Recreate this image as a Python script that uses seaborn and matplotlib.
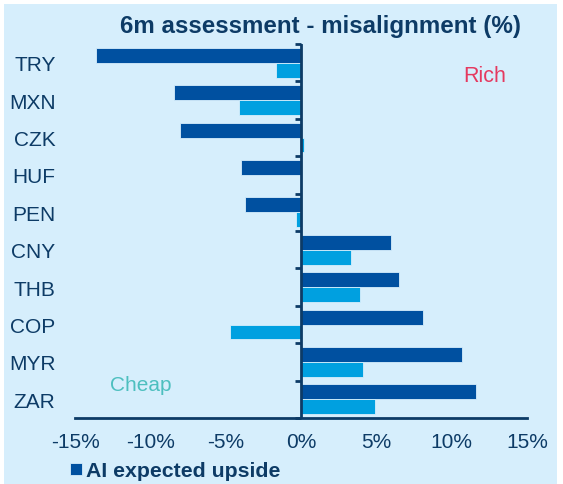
import pandas as pd
import numpy as np
import seaborn as sns
import matplotlib.pyplot as plt
from matplotlib.patches import Rectangle

currencies = ["TRY", "MXN", "CZK", "HUF", "PEN", "CNY", "THB", "COP", "MYR", "ZAR"]
ai_upside = [-13.6, -8.4, -8.0, -4.0, -3.7, 6.0, 6.5, 8.1, 10.7, 11.6]
misalignment = [-1.65, -4.1, 0.2, 0.0, -0.35, 3.3, 3.9, -4.7, 4.1, 4.9]
series_names = ["AI expected upside", "Current misalignment"]
xticks = [-15, -10, -5, 0, 5, 10, 15]

bg = "#D6EEFC"
navy = "#0D3B66"
dark_blue = "#0050A0"
light_blue = "#00A0E0"

df = pd.DataFrame({
    "currency": currencies * 2,
    "value": ai_upside + misalignment,
    "series": [series_names[0]] * len(currencies) + [series_names[1]] * len(currencies),
})

sns.set_theme(style="white")
plt.rcParams["font.family"] = ["Liberation Sans", "DejaVu Sans"]

fig = plt.figure(figsize=(5.63, 4.85), dpi=100, facecolor="white")
fig.patches.append(Rectangle((4 / 563, 0), 553 / 563, 1 - 5 / 485,
                             transform=fig.transFigure, facecolor=bg,
                             edgecolor="none", zorder=-10))
ax = fig.add_axes([75 / 563, 1 - 419 / 485, 452 / 563, 374 / 485])
ax.patch.set_alpha(0)

sns.barplot(data=df, y="currency", x="value", hue="series", orient="h",
            palette=[dark_blue, light_blue], width=0.8, ax=ax, legend=False,
            edgecolor=bg, linewidth=0.6, saturation=1)

ax.set_xlim(-15, 15)
ax.set_ylim(len(currencies) - 0.5, -0.5)
ax.set_xticks(xticks)
ax.set_xticklabels([f"{t}%" for t in xticks], fontsize=15, color=navy)
ax.set_xlabel("")
ax.set_ylabel("")
ax.tick_params(axis="y", length=0, pad=14, labelsize=15, labelcolor=navy)
ax.tick_params(axis="x", direction="out", length=5, width=2, color=navy, pad=5)
for s in ["top", "right", "left"]:
    ax.spines[s].set_visible(False)
ax.spines["bottom"].set_color(navy)
ax.spines["bottom"].set_linewidth(2)

# zero line with small ticks between the categories
ax.axvline(0, color=navy, linewidth=2, zorder=5)
bounds = np.arange(-0.5, len(currencies), 1.0)
ax.plot(np.zeros_like(bounds), bounds, linestyle="none", marker=0,
        markersize=4, markeredgewidth=2, color=navy, clip_on=False, zorder=5)

fig.text(320 / 563, 1 - 27 / 485, "6m assessment - misalignment (%)",
         ha="center", va="center", fontsize=17.4, fontweight="bold", color=navy)
fig.text(485 / 563, 1 - 77 / 485, "Rich", ha="center", va="center",
         fontsize=15.5, color="#E5395F")
fig.text(141 / 563, 1 - 386 / 485, "Cheap", ha="center", va="center",
         fontsize=15, color="#4DBFBF")

fig.legend(handles=[ax.containers[0]], labels=[series_names[0]],
           loc="center left", bbox_to_anchor=(70 / 563, 1 - 472 / 485),
           frameon=False, prop={"weight": "bold", "size": 15.3},
           handlelength=0.55, handleheight=0.55, handletextpad=0.2,
           borderpad=0, borderaxespad=0, labelcolor=navy)

fig.savefig("out.png", dpi=100, facecolor="white")
